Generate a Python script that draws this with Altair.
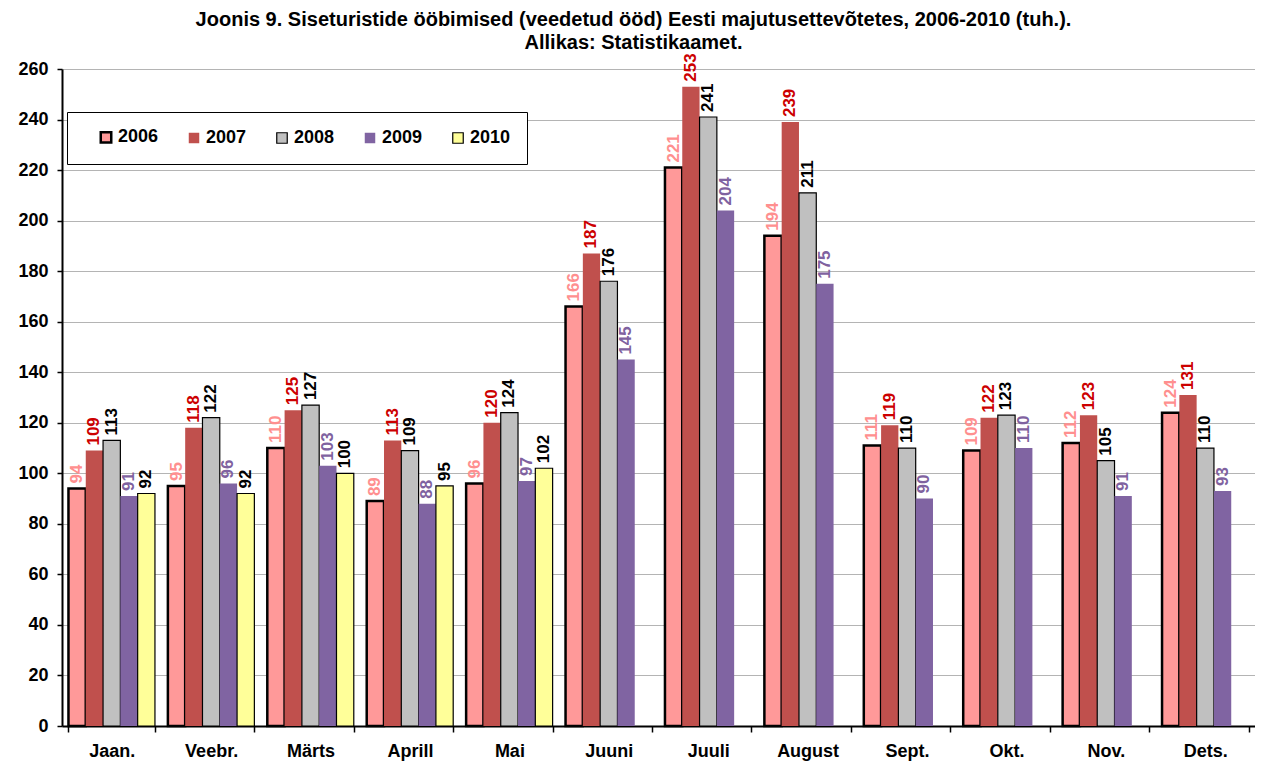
import altair as alt
import pandas as pd

months = ["Jaan.", "Veebr.", "Märts", "Aprill", "Mai", "Juuni", "Juuli", "August",
          "Sept.", "Okt.", "Nov.", "Dets."]
years = ["2006", "2007", "2008", "2009", "2010"]

v2006 = [94, 95, 110, 89, 96, 166, 221, 194, 111, 109, 112, 124]
v2007 = [109, 118, 125, 113, 120, 187, 253, 239, 119, 122, 123, 131]
v2008 = [113, 122, 127, 109, 124, 176, 241, 211, 110, 123, 105, 110]
v2009 = [91, 96, 103, 88, 97, 145, 204, 175, 90, 110, 91, 93]
v2010 = [92, 92, 100, 95, 102, None, None, None, None, None, None, None]

fills = ["#FF9999", "#C0504D", "#C0C0C0", "#8064A2", "#FFFF99"]
strokes = ["#000000", "#C0504D", "#000000", "#8064A2", "#000000"]
stroke_widths = [2.5, 0, 1.2, 0, 1.2]
label_colors = ["#FF8F8F", "#CC0000", "#000000", "#7F62A0", "#000000"]

rows = []
for y, vals in zip(years, [v2006, v2007, v2008, v2009, v2010]):
    for m, v in zip(months, vals):
        if v is not None:
            rows.append({"month": m, "year": y, "value": v})
df = pd.DataFrame(rows)

FONT = "Liberation Sans"


def make_legend():
    return alt.Legend(title=None, orient="none", legendX=5, legendY=43,
                      direction="horizontal", columns=5,
                      symbolType="square", symbolSize=110,
                      labelFontSize=18, labelFontWeight="bold",
                      labelFont=FONT, labelColor="black",
                      labelOffset=3, columnPadding=12,
                      padding=16, symbolOffset=14,
                      strokeColor="black", fillColor="white",
                      symbolOpacity=1)


x_enc = alt.X("month:N", sort=months, title=None,
              scale=alt.Scale(paddingInner=0.13, paddingOuter=0.065),
              axis=alt.Axis(labelAngle=0, tickBand="extent", labelFontSize=18,
                            labelFontWeight="bold", labelColor="black", labelFont=FONT,
                            domainColor="black", domainWidth=2, tickColor="black",
                            tickSize=6, tickWidth=1.5, labelPadding=10, grid=False))
xoff = alt.XOffset("year:N", scale=alt.Scale(domain=years, paddingInner=0, paddingOuter=0))
y_enc = alt.Y("value:Q", title=None,
              scale=alt.Scale(domain=[0, 260], nice=False),
              axis=alt.Axis(values=list(range(0, 261, 20)), labelFontSize=18,
                            labelFontWeight="bold", labelColor="black", labelFont=FONT,
                            domainColor="black", domainWidth=2, tickColor="black",
                            tickSize=5, tickWidth=1.5, labelPadding=9,
                            grid=True, gridColor="#B4B4B4", gridWidth=1))

bars = alt.Chart(df).mark_bar().encode(
    x=x_enc,
    xOffset=xoff,
    y=y_enc,
    fill=alt.Fill("year:N", scale=alt.Scale(domain=years, range=fills), legend=make_legend()),
    stroke=alt.Stroke("year:N", scale=alt.Scale(domain=years, range=strokes), legend=make_legend()),
    strokeWidth=alt.StrokeWidth("year:N",
                                scale=alt.Scale(type="ordinal", domain=years, range=stroke_widths),
                                legend=make_legend()),
)

labels = alt.Chart(df).mark_text(angle=270, align="left", baseline="middle", dx=5,
                                 fontSize=17, fontWeight="bold", font=FONT).encode(
    x=alt.X("month:N", sort=months),
    xOffset=xoff,
    y=alt.Y("value:Q"),
    text=alt.Text("value:Q"),
    color=alt.Color("year:N", scale=alt.Scale(domain=years, range=label_colors), legend=None),
)

chart = alt.layer(bars, labels).properties(
    width=1193, height=657,
    autosize=alt.AutoSizeParams(type="none"),
    padding={"left": 54, "top": 61, "right": 0, "bottom": 38},
    title=alt.TitleParams(
        text=["Joonis 9. Siseturistide ööbimised (veedetud ööd) Eesti majutusettevõtetes, 2006-2010 (tuh.).",
              "Allikas: Statistikaamet."],
        fontSize=20, fontWeight="bold", font=FONT, color="black",
        anchor="middle", offset=0, dx=-25, lineHeight=23),
).configure_view(stroke=None).configure_axis(labelFont=FONT)

chart.save("out.html", embed_options={"renderer": "svg", "actions": False})
